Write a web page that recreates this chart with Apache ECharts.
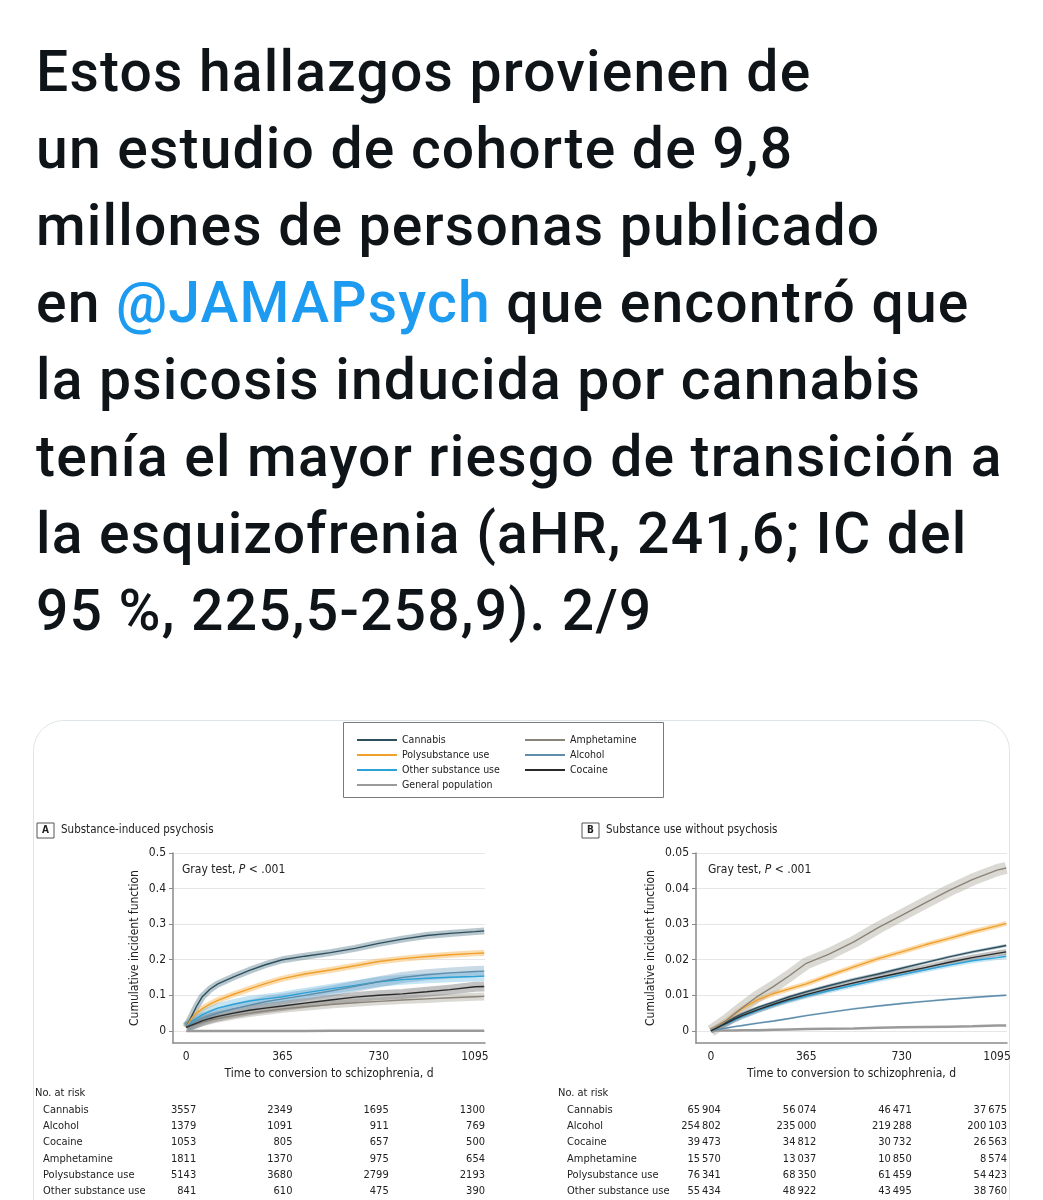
<!DOCTYPE html>
<html>
<head>
<meta charset="utf-8">
<script src="https://cdn.jsdelivr.net/npm/echarts@6/dist/echarts.min.js"></script>
<style>
  html, body { margin: 0; padding: 0; background: #fff; }
  #tweet {
    position: absolute; left: 36px; top: 33px;
    font-family: Roboto, "Noto Sans", sans-serif;
    font-size: 57px; line-height: 77px; font-weight: 500;
    color: #0f1419; letter-spacing: 1.2px; white-space: nowrap;
  }
  #tweet .at { color: #1d9bf0; }
  #main { position: absolute; left: 0; top: 0; width: 1043px; height: 1200px; }
</style>
</head>
<body>
<div id="main"></div>
<div id="tweet">
Estos hallazgos provienen de<br>
un estudio de cohorte de 9,8<br>
millones de personas publicado<br>
en <span class="at">@JAMAPsych</span> que encontró que<br>
la psicosis inducida por cannabis<br>
tenía el mayor riesgo de transición a<br>
la esquizofrenia (aHR, 241,6; IC del<br>
95 %, 225,5-258,9). 2/9
</div>
<script type="text/javascript">
// dias de seguimiento
var days = [0, 20, 40, 60, 90, 120, 180, 240, 300, 365, 450, 547, 640, 730, 820, 912, 1000, 1095, 1130];
var xTicks = [0, 365, 730, 1095];
var yTicksA = [0, 0.1, 0.2, 0.3, 0.4, 0.5];
var yTicksB = [0, 0.01, 0.02, 0.03, 0.04, 0.05];

// A: psicosis inducida
var cannabisA = [0.01, 0.04, 0.07, 0.095, 0.117, 0.132, 0.152, 0.17, 0.186, 0.2, 0.21, 0.22, 0.232, 0.246, 0.258, 0.268, 0.274, 0.279, 0.281];
var polyA = [0.01, 0.035, 0.05, 0.062, 0.075, 0.086, 0.103, 0.118, 0.133, 0.147, 0.16, 0.171, 0.183, 0.195, 0.203, 0.209, 0.214, 0.218, 0.219];
var otherA = [0.01, 0.025, 0.035, 0.045, 0.055, 0.064, 0.075, 0.084, 0.09, 0.096, 0.107, 0.118, 0.128, 0.138, 0.144, 0.148, 0.151, 0.153, 0.154];
var alcoholA = [0.01, 0.02, 0.028, 0.035, 0.043, 0.05, 0.062, 0.072, 0.082, 0.09, 0.1, 0.112, 0.125, 0.138, 0.15, 0.158, 0.163, 0.167, 0.168];
var cocaineA = [0.01, 0.016, 0.022, 0.028, 0.035, 0.041, 0.05, 0.058, 0.064, 0.07, 0.078, 0.087, 0.095, 0.1, 0.104, 0.11, 0.116, 0.124, 0.125];
var amphA = [0.01, 0.014, 0.019, 0.024, 0.03, 0.035, 0.043, 0.05, 0.056, 0.062, 0.068, 0.074, 0.079, 0.083, 0.087, 0.09, 0.093, 0.096, 0.097];
var generalA = [0, 0, 0, 0, 0, 0, 0, 0, 0, 0, 0, 0.0005, 0.0005, 0.0005, 0.0005, 0.0005, 0.0005, 0.0005, 0.0005];

// B: uso de sustancias sin psicosis
var amphB = [0, 0.001, 0.002, 0.003, 0.0048, 0.0065, 0.0098, 0.0125, 0.0155, 0.019, 0.0215, 0.025, 0.029, 0.0325, 0.036, 0.0395, 0.0425, 0.0452, 0.0458];
var polyB = [0, 0.001, 0.002, 0.003, 0.0047, 0.0063, 0.0088, 0.0105, 0.0118, 0.0132, 0.0155, 0.018, 0.0203, 0.0222, 0.0242, 0.026, 0.0278, 0.0295, 0.0302];
var cannabisB = [0, 0.0008, 0.0016, 0.0025, 0.0037, 0.0048, 0.0066, 0.0081, 0.0096, 0.011, 0.0127, 0.0145, 0.016, 0.0176, 0.0192, 0.0208, 0.0222, 0.0235, 0.024];
var cocaineB = [0, 0.0007, 0.0015, 0.0022, 0.0033, 0.0043, 0.006, 0.0075, 0.0089, 0.0102, 0.0118, 0.0135, 0.015, 0.0164, 0.0178, 0.0193, 0.0206, 0.0218, 0.0222];
var otherB = [0, 0.0007, 0.0014, 0.002, 0.003, 0.004, 0.0057, 0.0072, 0.0085, 0.0098, 0.0113, 0.0129, 0.0144, 0.0158, 0.0172, 0.0185, 0.0197, 0.0206, 0.021];
var alcoholB = [0, 0.0003, 0.0006, 0.0008, 0.0012, 0.0015, 0.0022, 0.0028, 0.0035, 0.0043, 0.0052, 0.0062, 0.007, 0.0077, 0.0083, 0.0089, 0.0094, 0.0099, 0.01];
var generalB = [0, 0.0001, 0.0001, 0.0001, 0.0001, 0.0002, 0.0002, 0.0003, 0.0004, 0.0005, 0.0006, 0.0007, 0.0009, 0.001, 0.0011, 0.0012, 0.0013, 0.0015, 0.0015];

// numero en riesgo
var riskRows = ['Cannabis', 'Alcohol', 'Cocaine', 'Amphetamine', 'Polysubstance use', 'Other substance use'];
var riskA = [
  [3557, 2349, 1695, 1300],
  [1379, 1091, 911, 769],
  [1053, 805, 657, 500],
  [1811, 1370, 975, 654],
  [5143, 3680, 2799, 2193],
  [841, 610, 475, 390]
];
var riskB = [
  [65904, 56074, 46471, 37675],
  [254802, 235000, 219288, 200103],
  [39473, 34812, 30732, 26563],
  [15570, 13037, 10850, 8574],
  [76341, 68350, 61459, 54423],
  [55434, 48922, 43495, 38760]
];

var FONT = '"DejaVu Sans Condensed", "Liberation Sans Narrow", sans-serif';

var styles = {
  'Cannabis':            { color: '#2d4f5e', band: 'rgba(95,130,145,0.45)' },
  'Polysubstance use':   { color: '#f0a02c', band: 'rgba(247,185,95,0.5)' },
  'Other substance use': { color: '#2ba3d8', band: 'rgba(110,190,230,0.4)' },
  'General population':  { color: '#9a9a9a', band: 'rgba(160,160,160,0.4)' },
  'Amphetamine':         { color: '#8a8378', band: 'rgba(175,170,160,0.45)' },
  'Alcohol':             { color: '#5f8eaa', band: 'rgba(100,150,185,0.35)' },
  'Cocaine':             { color: '#2a2a2a', band: 'rgba(120,120,120,0.45)' }
};

function pairs(vals) {
  return days.map(function (d, i) { return [d, vals[i]]; });
}

var panelA = [
  ['Cannabis', cannabisA, 7], ['Polysubstance use', polyA, 6], ['Other substance use', otherA, 10],
  ['General population', generalA, 0], ['Amphetamine', amphA, 8], ['Alcohol', alcoholA, 11], ['Cocaine', cocaineA, 10]
];
var panelB = [
  ['Cannabis', cannabisB, 3], ['Polysubstance use', polyB, 5], ['Other substance use', otherB, 5],
  ['General population', generalB, 0], ['Amphetamine', amphB, 12], ['Alcohol', alcoholB, 2], ['Cocaine', cocaineB, 6]
];

var series = [];
[panelA, panelB].forEach(function (panel, p) {
  panel.forEach(function (s) {
    var st = styles[s[0]];
    series.push({
      name: s[0], type: 'line', xAxisIndex: p, yAxisIndex: p,
      data: pairs(s[1]), symbol: 'none', z: 4, silent: true,
      itemStyle: { color: st.color },
      lineStyle: { color: st.color, width: s[0] === 'General population' ? 2.5 : 1.4 }
    });
  });
});
[panelA, panelB].forEach(function (panel, p) {
  panel.forEach(function (s) {
    if (!s[2]) return;
    series.push({
      name: s[0] + ' IC', type: 'line', xAxisIndex: p, yAxisIndex: p,
      data: pairs(s[1]), symbol: 'none', z: 2, silent: true,
      lineStyle: { color: styles[s[0]].band, width: s[2], cap: 'butt', join: 'round' }
    });
  });
});

function yFmt(v) { return v === 0 ? '0' : String(+v.toFixed(3)); }

function xAxis(idx, min) {
  return {
    type: 'value', gridIndex: idx, min: min, max: 1133,
    name: 'Time to conversion to schizophrenia, d', nameLocation: 'middle', nameGap: 25,
    nameTextStyle: { fontFamily: FONT, fontSize: 12, color: '#222' },
    axisLine: { onZero: false, lineStyle: { color: '#8a8a8a', width: 1.5 } },
    axisTick: { show: false, customValues: xTicks },
    axisLabel: { customValues: xTicks, margin: 8, formatter: function (v) { return String(v); }, fontFamily: FONT, fontSize: 12, color: '#222' },
    splitLine: { show: false }
  };
}
function yAxis(idx, min, max, ticks, gap) {
  return {
    type: 'value', gridIndex: idx, min: min, max: max,
    name: 'Cumulative incident function', nameLocation: 'middle', nameGap: gap,
    nameTextStyle: { fontFamily: FONT, fontSize: 12, color: '#222' },
    axisLine: { show: true, onZero: false, lineStyle: { color: '#8a8a8a', width: 1.5 } },
    axisTick: { show: true, length: 4, customValues: ticks, lineStyle: { color: '#8a8a8a' } },
    axisLabel: { customValues: ticks, margin: 7, formatter: yFmt, fontFamily: FONT, fontSize: 12, color: '#222' },
    splitLine: { show: true, lineStyle: { color: '#e6e6e6', width: 1 } }
  };
}

var legendCommon = {
  orient: 'vertical', icon: 'rect', itemWidth: 40, itemHeight: 2, itemGap: 4,
  textStyle: { fontFamily: FONT, fontSize: 10.5, color: '#222' }, selectedMode: false
};

function panelTitle(x, letter, text) {
  return [
    { type: 'rect', shape: { x: x, y: 823, width: 17, height: 15 }, style: { fill: '#fff', stroke: '#555', lineWidth: 1 } },
    { type: 'text', x: x + 8.5, y: 830.5, style: { text: letter, fontFamily: FONT, fontSize: 10, fontWeight: 'bold', fill: '#222', align: 'center', verticalAlign: 'middle' } },
    { type: 'text', x: x + 24, y: 830, style: { text: text, fontFamily: FONT, fontSize: 11.5, fill: '#222', verticalAlign: 'middle' } }
  ];
}
function grayTest(x) {
  return {
    type: 'text', x: x, y: 870,
    style: {
      text: '{a|Gray test, }{i|P}{a| < .001}', verticalAlign: 'middle',
      rich: {
        a: { fontFamily: FONT, fontSize: 12, fill: '#222' },
        i: { fontFamily: FONT, fontSize: 12, fontStyle: 'italic', fill: '#222' }
      }
    }
  };
}

var baseGraphic = [
  { type: 'rect', shape: { x: 33.5, y: 720.5, width: 976, height: 520, r: 30 }, style: { fill: 'none', stroke: '#dfe4e8', lineWidth: 1 }, z: -10 },
  { type: 'rect', shape: { x: 343.5, y: 722.5, width: 320, height: 75 }, style: { fill: '#fff', stroke: '#7a7a7a', lineWidth: 1 }, z: -1 },
  grayTest(182), grayTest(708)
].concat(panelTitle(37, 'A', 'Substance-induced psychosis'))
 .concat(panelTitle(582, 'B', 'Substance use without psychosis'));

var option = {
  backgroundColor: 'transparent',
  animation: false,
  legend: [
    Object.assign({ left: 352, top: 729.5, data: ['Cannabis', 'Polysubstance use', 'Other substance use', 'General population'] }, legendCommon),
    Object.assign({ left: 520, top: 729.5, data: ['Amphetamine', 'Alcohol', 'Cocaine'] }, legendCommon)
  ],
  grid: [
    { left: 173, right: 1043 - 485, top: 853, bottom: 1200 - 1043 },
    { left: 696, right: 1043 - 1007, top: 853, bottom: 1200 - 1043 }
  ],
  xAxis: [xAxis(0, -50), xAxis(1, -57)],
  yAxis: [yAxis(0, -0.034, 0.5, yTicksA, 32), yAxis(1, -0.0034, 0.05, yTicksB, 39)],
  graphic: baseGraphic,
  series: series
};

var myChart = echarts.init(document.getElementById('main'), null, { renderer: 'canvas' });
myChart.setOption(option);

// tabla "No. at risk" colocada con las escalas del eje x
function fmtThin(n) {
  return String(n).replace(/\B(?=(\d{3})+(?!\d))/g, '\u2009');
}
var tableEls = [];
[[0, riskA, 35, 43, String], [1, riskB, 558, 567, fmtThin]].forEach(function (t) {
  var rowY0 = 1110, rowStep = 16.3;
  tableEls.push({ type: 'text', x: t[2], y: 1093, style: { text: 'No. at risk', fontFamily: FONT, fontSize: 11, fill: '#222', verticalAlign: 'middle' } });
  riskRows.forEach(function (label, r) {
    var y = rowY0 + r * rowStep;
    tableEls.push({ type: 'text', x: t[3], y: y, style: { text: label, fontFamily: FONT, fontSize: 11, fill: '#222', verticalAlign: 'middle' } });
    xTicks.forEach(function (d, c) {
      var px = myChart.convertToPixel({ xAxisIndex: t[0] }, d);
      tableEls.push({ type: 'text', x: px + 10, y: y, style: { text: t[4](t[1][r][c]), fontFamily: FONT, fontSize: 11, fill: '#222', align: 'right', verticalAlign: 'middle' } });
    });
  });
});
myChart.setOption({ graphic: baseGraphic.concat(tableEls) });
</script>
</body>
</html>
